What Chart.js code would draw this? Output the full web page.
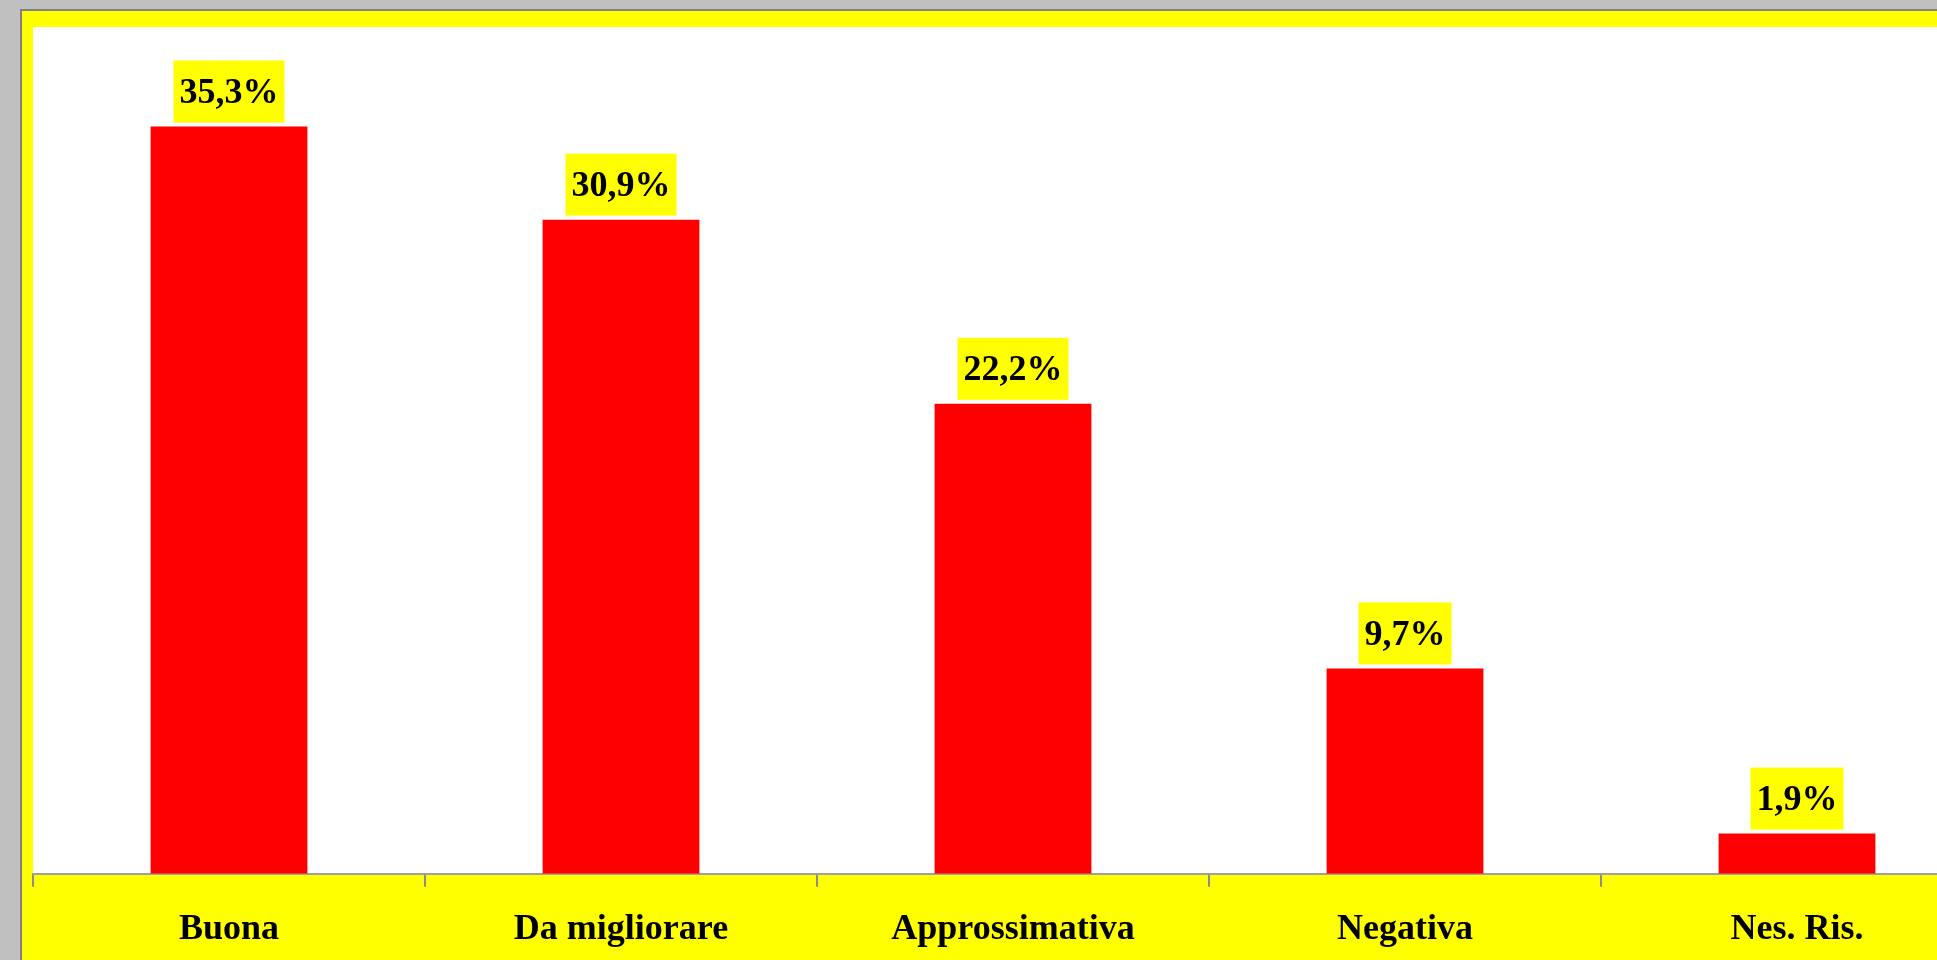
<!DOCTYPE html>
<html>
<head>
<meta charset="utf-8">
<script src="https://cdn.jsdelivr.net/npm/chart.js@4"></script>
<style>
  body { margin: 0; background: #c0c0c0; overflow: hidden; width: 1937px; height: 960px; }
  #frame { position: absolute; left: 20px; top: 9px; width: 2100px; height: 1000px;
           border-left: 2px solid #808080; border-top: 2px solid #808080; background: #ffff00; }
  #wrap { position: absolute; left: 0; top: 0; width: 1990px; height: 972px; }
</style>
</head>
<body>
<div id="frame"><div id="wrap"><canvas id="giudizioChart"></canvas></div></div>
<script>
const categories = ['Buona', 'Da migliorare', 'Approssimativa', 'Negativa', 'Nes. Ris.']
const percentuali = [35.3, 30.9, 22.2, 9.7, 1.9]

const fontSerif = '"Liberation Serif", "Times New Roman", serif'

// white plot background inside the yellow frame
const plotBackground = {
    id: 'plotBackground',
    beforeDraw(chart) {
        const { ctx, chartArea } = chart
        ctx.save()
        ctx.fillStyle = '#ffffff'
        ctx.fillRect(chartArea.left, chartArea.top, chartArea.right - chartArea.left, chartArea.bottom - chartArea.top)
        ctx.restore()
    }
}

// yellow value boxes above each bar
const valueBoxes = {
    id: 'valueBoxes',
    afterDatasetsDraw(chart) {
        const { ctx } = chart
        const meta = chart.getDatasetMeta(0)
        ctx.save()
        ctx.font = 'bold 36px ' + fontSerif
        ctx.textAlign = 'center'
        ctx.textBaseline = 'middle'
        meta.data.forEach((bar, i) => {
            const text = percentuali[i].toFixed(1).replace('.', ',') + '%'
            const w = ctx.measureText(text).width + 12
            const h = 62
            const bottom = bar.y - 4
            ctx.fillStyle = '#ffff00'
            ctx.fillRect(bar.x - w / 2, bottom - h, w, h)
            ctx.fillStyle = '#000000'
            ctx.fillText(text, bar.x, bottom - h / 2 + 2)
        })
        ctx.restore()
    }
}

new Chart('giudizioChart', {
    type: 'bar',
    data: {
        labels: categories,
        datasets: [{
            data: percentuali,
            backgroundColor: '#ff0000',
            borderWidth: 0,
            barPercentage: 0.4,
            categoryPercentage: 1
        }]
    },
    options: {
        responsive: true,
        maintainAspectRatio: false,
        animation: false,
        layout: { padding: { left: 11, top: 16, right: 19, bottom: 11 } },
        plugins: {
            legend: { display: false },
            tooltip: { enabled: false }
        },
        scales: {
            y: { display: false, min: 0, max: 40 },
            x: {
                grid: {
                    offset: true,
                    drawOnChartArea: false,
                    drawTicks: true,
                    tickLength: 13,
                    color: '#8c8c8c',
                    lineWidth: 2
                },
                border: { display: true, color: '#a0a0a0', width: 2 },
                ticks: {
                    color: '#000000',
                    padding: 21,
                    font: { family: fontSerif, size: 36, weight: 'bold' }
                }
            }
        }
    },
    plugins: [plotBackground, valueBoxes]
})
</script>
</body>
</html>
